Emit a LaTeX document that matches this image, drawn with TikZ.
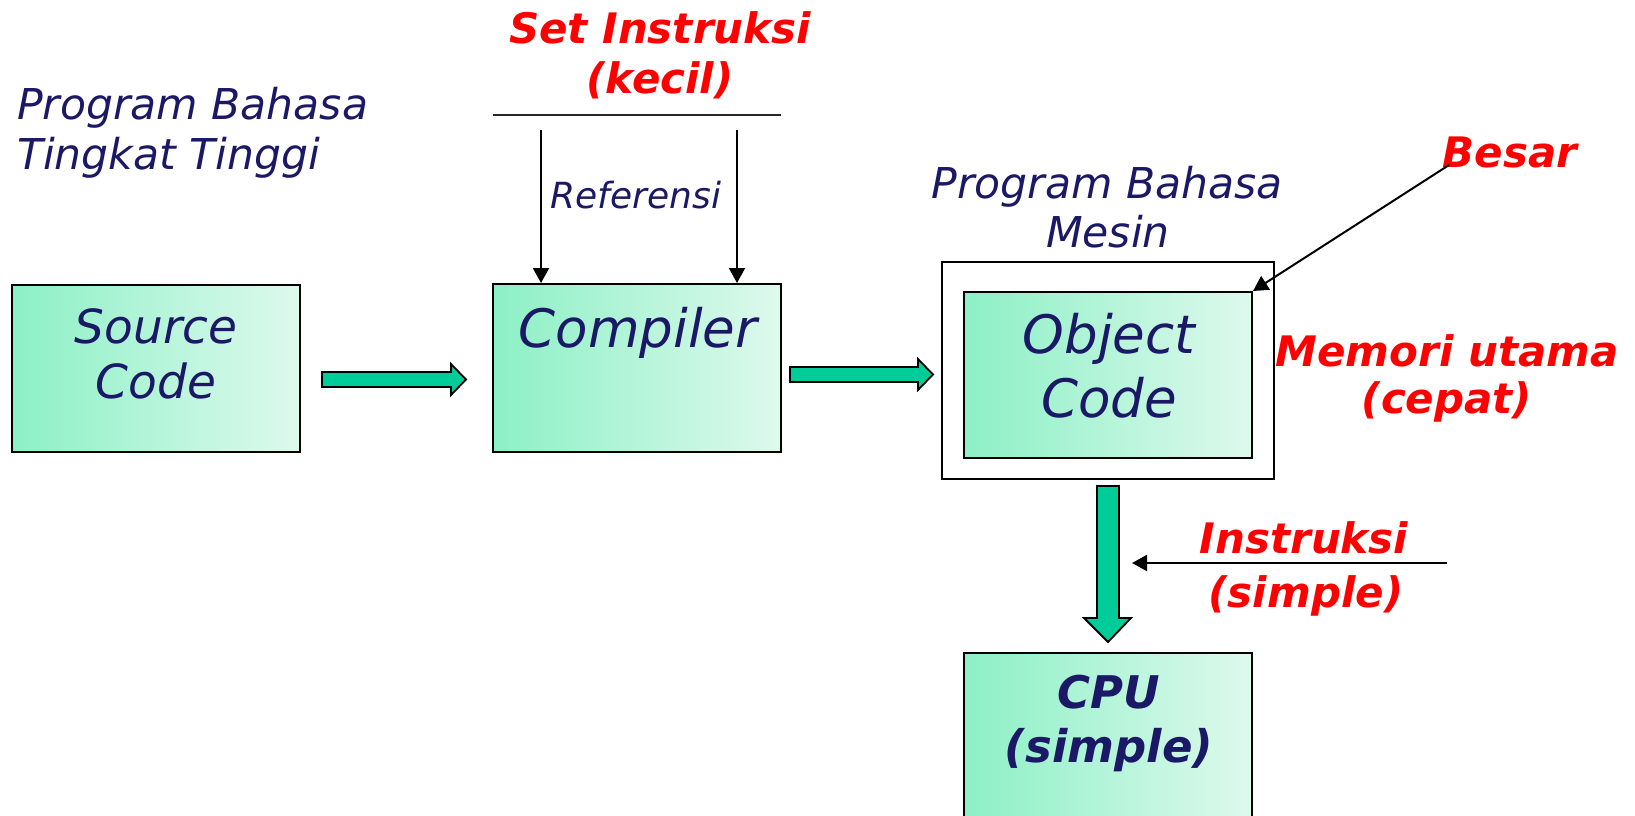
\documentclass[tikz,border=0pt]{standalone}
\usepackage{fontspec}
\setmainfont{DejaVu Sans}
\usetikzlibrary{arrows.meta}
\definecolor{navytxt}{RGB}{27,25,102}
\definecolor{redtxt}{RGB}{255,0,0}
\definecolor{mintL}{RGB}{140,240,198}
\definecolor{mintR}{RGB}{222,249,237}
\definecolor{arrowfill}{RGB}{0,204,153}
\newcommand\myfs[1]{\fontsize{#1}{#1}\selectfont}
\begin{document}
\begin{tikzpicture}[x=1pt,y=-1pt,
  box/.style={draw=black, line width=2pt, left color=mintL, right color=mintR, inner sep=0pt},
  frame/.style={draw=black, line width=2pt, fill=white, inner sep=0pt},
  navylbl/.style={text=navytxt, inner sep=0pt, anchor=base},
  redlbl/.style={text=redtxt, inner sep=0pt, anchor=base, font=\myfs{42}\bfseries\itshape},
  ptr/.style={draw=black, line width=2pt, -{Triangle[length=15pt,width=16pt]}},
  rule/.style={draw=black!85, line width=2pt},
  blk/.style={draw=black, line width=1.8pt, fill=arrowfill, line join=miter}]
\useasboundingbox (0,0) rectangle (1635,816);
\clip (0,0) rectangle (1635,816);

% boxes
\node[box, minimum width=288pt, minimum height=167pt] (src) at (156,368.5) {};
\node[box, minimum width=288pt, minimum height=168pt] (comp) at (637,368) {};
\node[frame, minimum width=332pt, minimum height=217pt] (outer) at (1108,370.5) {};
\node[box, minimum width=288pt, minimum height=166pt] (inner) at (1108,375) {};
\node[box, minimum width=288pt, minimum height=167pt] (cpu) at (1108,736.5) {};

% texts
\node[navylbl, anchor=base west, font=\myfs{42.5}\itshape] (hl1) at (17,119) {Program Bahasa};
\node[navylbl, anchor=base west, font=\myfs{42.5}\itshape] (hl2) at (17,169) {Tingkat Tinggi};
\node[redlbl] (si1) at (660,44) {Set Instruksi};
\node[redlbl] (si2) at (660,93) {(kecil)};
\node[navylbl, font=\myfs{36}\itshape] (ref) at (636,208) {Referensi};
\node[navylbl, font=\myfs{47}\itshape] (src1) at (156,343) {Source};
\node[navylbl, font=\myfs{47}\itshape] (src2) at (156,398) {Code};
\node[navylbl, font=\myfs{53}\itshape] (comptxt) at (638,347) {Compiler};
\node[navylbl, font=\myfs{42.5}\itshape] (ml1) at (1107,198) {Program Bahasa};
\node[navylbl, font=\myfs{42.5}\itshape] (ml2) at (1108,247) {Mesin};
\node[redlbl] (besar) at (1510,167) {Besar};
\node[navylbl, font=\myfs{53}\itshape] (obj1) at (1109,353) {Object};
\node[navylbl, font=\myfs{53}\itshape] (obj2) at (1109,417) {Code};
\node[redlbl] (mem1) at (1447,366) {Memori utama};
\node[redlbl] (mem2) at (1447,413) {(cepat)};
\node[redlbl] (ins1) at (1304,553) {Instruksi};
\node[redlbl] (ins2) at (1306,607) {(simple)};
\node[navylbl, font=\myfs{45}\bfseries\itshape] (cpu1) at (1109,708) {CPU};
\node[navylbl, font=\myfs{45}\bfseries\itshape] (cpu2) at (1109,762) {(simple)};

% thin connectors
\coordinate (setL) at (493,115);
\coordinate (setR) at (781,115);
\draw[rule] (setL) -- (setR);
\coordinate (r1) at (541,130);
\coordinate (r2) at (737,130);
\draw[ptr] (r1) -- (r1 |- comp.north);
\draw[ptr] (r2) -- (r2 |- comp.north);
\coordinate (bs) at (1449,165);
\draw[ptr] (bs) -- (inner.north east);
\coordinate (insS) at (1447,563);
\coordinate (insT) at (1132,563);
\draw[ptr] (insS) -- (insT);

% block arrows
\draw[blk] (322,372) -- (451,372) -- (451,364) -- (466,379.5) -- (451,395) -- (451,387) -- (322,387) -- cycle;
\draw[blk] (790,367) -- (918,367) -- (918,359) -- (933,374.5) -- (918,390) -- (918,382) -- (790,382) -- cycle;
\draw[blk] (1097,486) -- (1119,486) -- (1119,618) -- (1131,618) -- (1108,642) -- (1084,618) -- (1097,618) -- cycle;
\end{tikzpicture}
\end{document}
